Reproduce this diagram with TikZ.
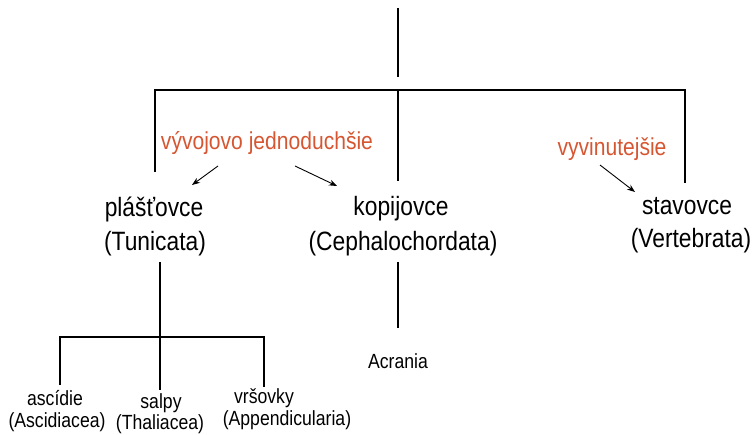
\documentclass[tikz,border=0pt]{standalone}
\usepackage{fontspec}
\setmainfont{Liberation Sans}
\newfontfamily\narrowfont[FakeStretch=0.86]{Liberation Sans}
\usetikzlibrary{arrows.meta}
\definecolor{evo}{RGB}{214,86,50}
\begin{document}
\begin{tikzpicture}[x=1pt,y=-1pt,
  treeline/.style={line width=2pt, black},
  arr/.style={line width=0.9pt, black, -{Stealth[length=8pt,width=6pt]}},
  big/.style={font=\narrowfont\fontsize{26.5}{30}\selectfont, anchor=base, inner sep=0pt},
  evotxt/.style={font=\narrowfont\fontsize{24.5}{28}\selectfont, text=evo, anchor=base, inner sep=0pt},
  small/.style={font=\narrowfont\fontsize{20.5}{24}\selectfont, anchor=base, inner sep=0pt}]
\useasboundingbox (0,0) rectangle (755,435);

% labels
\node[big] (plas1) at (154,217) {plášťovce};
\node[big] (plas2) at (155,251) {(Tunicata)};
\node[big] (kop1) at (401,216) {kopijovce};
\node[big] (kop2) at (403,251) {(Cephalochordata)};
\node[big] (stav1) at (687,215) {stavovce};
\node[big] (stav2) at (691,248) {(Vertebrata)};
\node[evotxt] (red1) at (267,150) {vývojovo jednoduchšie};
\node[evotxt] (red2) at (612,156) {vyvinutejšie};
\node[small] (acr) at (398,369) {Acrania};
\node[small] (asc1) at (55,406) {ascídie};
\node[small] (asc2) at (57,428) {(Ascidiacea)};
\node[small] (sal1) at (161,409) {salpy};
\node[small] (sal2) at (160,429) {(Thaliacea)};
\node[small] (vrs1) at (264,404) {vršovky};
\node[small] (vrs2) at (287,425) {(Appendicularia)};

% tree coordinates
\coordinate (rootT) at (398,8);
\coordinate (rootB) at (398,77);
\coordinate (barL) at (155,90);
\coordinate (barM) at (398,90);
\coordinate (barR) at (685,90);
\coordinate (dropL) at (155,172);
\coordinate (dropM) at (398,181);
\coordinate (dropR) at (685,183);
\coordinate (tunT) at (160,262);
\coordinate (tunB) at (160,337);
\coordinate (subL) at (60,337);
\coordinate (subR) at (264,337);
\coordinate (subLd) at (60,385);
\coordinate (subMd) at (160,390);
\coordinate (subRd) at (264,387);
\coordinate (acrT) at (398,262);
\coordinate (acrB) at (398,328);

\draw[treeline] (rootT) -- (rootB);
\draw[treeline] (dropL) -- (barL) -- (barR) -- (dropR);
\draw[treeline] (barM) -- (dropM);
\draw[treeline] (tunT) -- (tunB);
\draw[treeline] (subLd) -- (subL) -- (subR) -- (subRd);
\draw[treeline] (tunB) -- (subMd);
\draw[treeline] (acrT) -- (acrB);

% arrows
\coordinate (a1s) at (218,166);
\coordinate (a1e) at (192,185);
\coordinate (a2s) at (295,166);
\coordinate (a2e) at (337,186);
\coordinate (a3s) at (600,165);
\coordinate (a3e) at (635,192);
\draw[arr] (a1s) -- (a1e);
\draw[arr] (a2s) -- (a2e);
\draw[arr] (a3s) -- (a3e);
\end{tikzpicture}
\end{document}
